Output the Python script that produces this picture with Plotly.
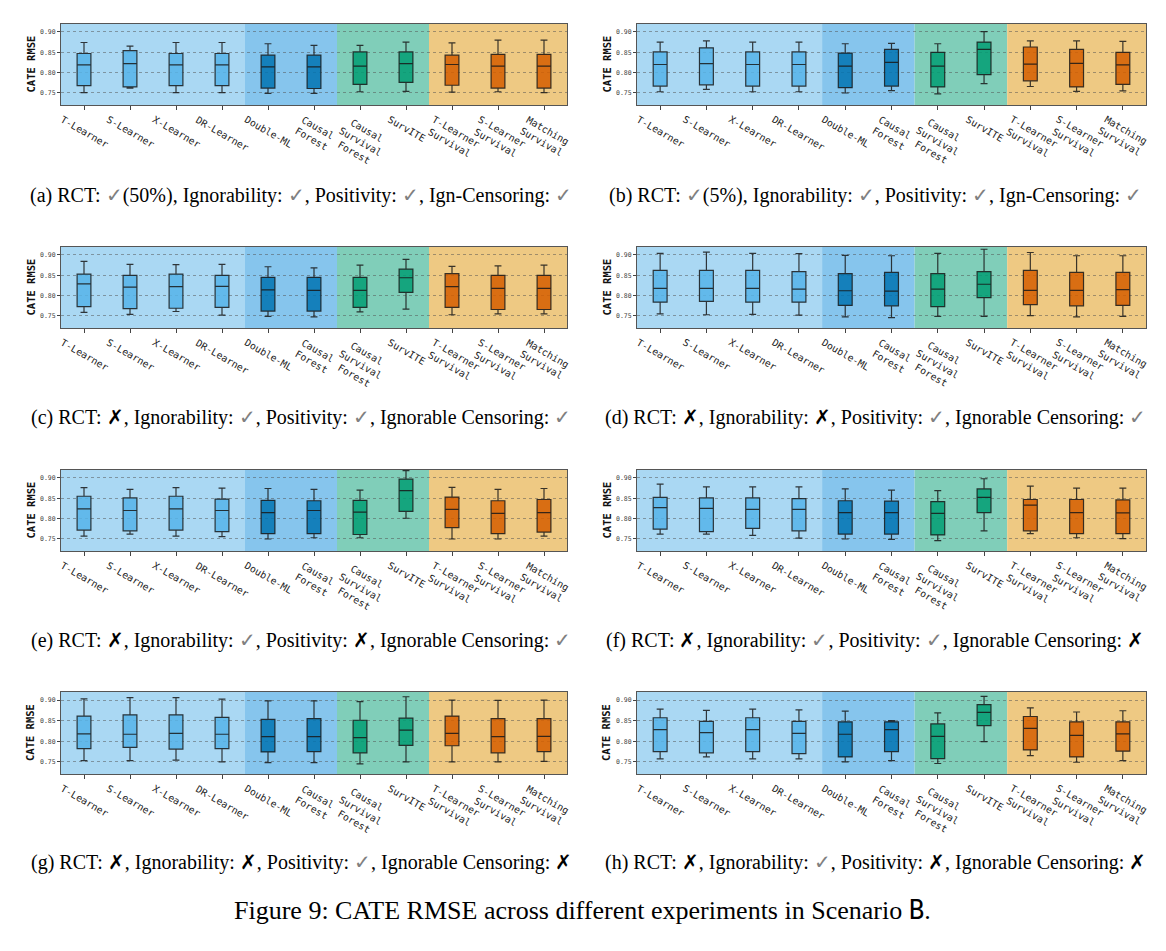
import plotly.graph_objects as go

W, H = 1166, 951

methods = ["T-Learner", "S-Learner", "X-Learner", "DR-Learner", "Double-ML", "Causal Forest",
           "Causal Survival Forest", "SurvITE", "T-Learner Survival", "S-Learner Survival",
           "Matching Survival"]
tick_labels = ["T-Learner", "S-Learner", "X-Learner", "DR-Learner", "Double-ML", "Causal<br>Forest",
               "Causal<br>Survival<br>Forest", "SurvITE", "T-Learner<br>Survival",
               "S-Learner<br>Survival", "Matching<br>Survival"]
groups = [0, 0, 0, 0, 1, 1, 2, 2, 3, 3, 3]
y_ticks = [0.75, 0.80, 0.85, 0.90]

# ---- panel (a)
lo_a = [0.751, 0.762, 0.751, 0.751, 0.749, 0.749, 0.753, 0.754, 0.752, 0.753, 0.751]
q1_a = [0.768, 0.765, 0.768, 0.768, 0.762, 0.761, 0.771, 0.776, 0.769, 0.762, 0.762]
md_a = [0.819, 0.822, 0.819, 0.819, 0.814, 0.814, 0.816, 0.822, 0.820, 0.816, 0.816]
q3_a = [0.847, 0.854, 0.847, 0.847, 0.843, 0.843, 0.851, 0.851, 0.843, 0.845, 0.845]
hi_a = [0.874, 0.865, 0.874, 0.874, 0.871, 0.867, 0.867, 0.875, 0.873, 0.880, 0.880]
# ---- panel (b)
lo_b = [0.753, 0.759, 0.753, 0.753, 0.750, 0.756, 0.748, 0.773, 0.766, 0.754, 0.755]
q1_b = [0.767, 0.770, 0.767, 0.767, 0.763, 0.767, 0.765, 0.795, 0.780, 0.765, 0.771]
md_b = [0.820, 0.822, 0.820, 0.820, 0.816, 0.825, 0.816, 0.857, 0.821, 0.823, 0.819]
q3_b = [0.851, 0.861, 0.851, 0.851, 0.848, 0.857, 0.850, 0.875, 0.863, 0.857, 0.850]
hi_b = [0.875, 0.878, 0.875, 0.875, 0.871, 0.872, 0.871, 0.901, 0.878, 0.878, 0.877]
# ---- panel (c)
lo_c = [0.759, 0.754, 0.761, 0.752, 0.749, 0.748, 0.760, 0.767, 0.753, 0.755, 0.755]
q1_c = [0.773, 0.768, 0.769, 0.771, 0.762, 0.762, 0.771, 0.808, 0.771, 0.766, 0.766]
md_c = [0.829, 0.821, 0.822, 0.823, 0.814, 0.813, 0.813, 0.844, 0.822, 0.818, 0.818]
q3_c = [0.853, 0.850, 0.853, 0.850, 0.845, 0.845, 0.845, 0.865, 0.854, 0.850, 0.850]
hi_c = [0.884, 0.877, 0.876, 0.877, 0.871, 0.868, 0.875, 0.889, 0.872, 0.873, 0.875]
# ---- panel (d)
lo_d = [0.755, 0.753, 0.754, 0.752, 0.748, 0.746, 0.749, 0.749, 0.751, 0.748, 0.749]
q1_d = [0.784, 0.786, 0.784, 0.784, 0.776, 0.775, 0.773, 0.795, 0.778, 0.775, 0.776]
md_d = [0.818, 0.818, 0.818, 0.816, 0.812, 0.811, 0.816, 0.828, 0.813, 0.813, 0.815]
q3_d = [0.862, 0.862, 0.862, 0.859, 0.854, 0.857, 0.854, 0.859, 0.862, 0.857, 0.857]
hi_d = [0.904, 0.907, 0.904, 0.903, 0.899, 0.898, 0.904, 0.914, 0.906, 0.898, 0.898]
# ---- panel (e)
lo_e = [0.757, 0.762, 0.757, 0.756, 0.750, 0.753, 0.753, 0.801, 0.750, 0.750, 0.757]
q1_e = [0.772, 0.770, 0.772, 0.768, 0.763, 0.763, 0.761, 0.818, 0.778, 0.763, 0.767]
md_e = [0.824, 0.820, 0.824, 0.820, 0.815, 0.820, 0.816, 0.869, 0.823, 0.813, 0.815]
q3_e = [0.855, 0.851, 0.855, 0.848, 0.845, 0.844, 0.845, 0.897, 0.853, 0.844, 0.847]
hi_e = [0.876, 0.872, 0.876, 0.875, 0.874, 0.872, 0.870, 0.918, 0.877, 0.872, 0.874]
# ---- panel (f)
lo_f = [0.762, 0.762, 0.759, 0.752, 0.750, 0.749, 0.746, 0.770, 0.763, 0.753, 0.751]
q1_f = [0.774, 0.768, 0.776, 0.770, 0.762, 0.762, 0.760, 0.815, 0.770, 0.763, 0.763]
md_f = [0.827, 0.825, 0.823, 0.823, 0.815, 0.815, 0.813, 0.852, 0.833, 0.815, 0.814]
q3_f = [0.852, 0.851, 0.851, 0.849, 0.844, 0.843, 0.842, 0.873, 0.847, 0.847, 0.846]
hi_f = [0.885, 0.878, 0.878, 0.878, 0.873, 0.870, 0.869, 0.898, 0.880, 0.875, 0.875]
# ---- panel (g)
lo_g = [0.753, 0.753, 0.754, 0.750, 0.748, 0.748, 0.745, 0.750, 0.750, 0.750, 0.751]
q1_g = [0.782, 0.785, 0.781, 0.782, 0.774, 0.775, 0.772, 0.790, 0.789, 0.772, 0.775]
md_g = [0.818, 0.817, 0.819, 0.817, 0.811, 0.811, 0.809, 0.827, 0.819, 0.811, 0.812]
q3_g = [0.861, 0.864, 0.864, 0.858, 0.853, 0.855, 0.851, 0.856, 0.861, 0.855, 0.855]
hi_g = [0.903, 0.906, 0.906, 0.902, 0.898, 0.898, 0.896, 0.908, 0.900, 0.899, 0.900]
# ---- panel (h)
lo_h = [0.757, 0.762, 0.757, 0.757, 0.750, 0.753, 0.746, 0.799, 0.765, 0.749, 0.753]
q1_h = [0.775, 0.772, 0.775, 0.770, 0.762, 0.775, 0.758, 0.838, 0.779, 0.762, 0.776]
md_h = [0.828, 0.821, 0.828, 0.819, 0.817, 0.828, 0.812, 0.870, 0.831, 0.814, 0.818]
q3_h = [0.857, 0.848, 0.857, 0.848, 0.847, 0.847, 0.842, 0.889, 0.860, 0.847, 0.847]
hi_h = [0.878, 0.875, 0.878, 0.876, 0.873, 0.850, 0.869, 0.909, 0.881, 0.871, 0.874]

CHK = '<span style="color:#808080">✓</span>'
CRS = '<span style="color:#000000">✗</span>'
captions = [
    f"(a) RCT: {CHK}(50%), Ignorability: {CHK}, Positivity: {CHK}, Ign-Censoring: {CHK}",
    f"(b) RCT: {CHK}(5%), Ignorability: {CHK}, Positivity: {CHK}, Ign-Censoring: {CHK}",
    f"(c) RCT: {CRS}, Ignorability: {CHK}, Positivity: {CHK}, Ignorable Censoring: {CHK}",
    f"(d) RCT: {CRS}, Ignorability: {CRS}, Positivity: {CHK}, Ignorable Censoring: {CHK}",
    f"(e) RCT: {CRS}, Ignorability: {CHK}, Positivity: {CRS}, Ignorable Censoring: {CHK}",
    f"(f) RCT: {CRS}, Ignorability: {CHK}, Positivity: {CHK}, Ignorable Censoring: {CRS}",
    f"(g) RCT: {CRS}, Ignorability: {CRS}, Positivity: {CHK}, Ignorable Censoring: {CRS}",
    f"(h) RCT: {CRS}, Ignorability: {CHK}, Positivity: {CRS}, Ignorable Censoring: {CRS}",
]
title_text = ('Figure 9: CATE RMSE across different experiments in Scenario '
              '<span style="font-family:DejaVu Sans Mono">B</span>.')

panels = [
    (lo_a, q1_a, md_a, q3_a, hi_a), (lo_b, q1_b, md_b, q3_b, hi_b),
    (lo_c, q1_c, md_c, q3_c, hi_c), (lo_d, q1_d, md_d, q3_d, hi_d),
    (lo_e, q1_e, md_e, q3_e, hi_e), (lo_f, q1_f, md_f, q3_f, hi_f),
    (lo_g, q1_g, md_g, q3_g, hi_g), (lo_h, q1_h, md_h, q3_h, hi_h),
]

# styling
box_fill = ["rgba(86,180,233,0.85)", "rgba(1,115,178,0.85)", "rgba(2,158,115,0.85)", "rgba(213,94,0,0.85)"]
bg_fill = ["rgb(170,216,243)", "rgb(134,197,237)", "rgb(128,206,185)", "rgb(238,201,131)"]
group_spans = [(-0.5, 3.5), (3.5, 5.5), (5.5, 7.5), (7.5, 10.5)]
col_x = [(61, 567), (637, 1146)]
row_y = [(24, 105), (247, 328), (470, 551), (692, 774)]
cap_x = [301, 875]
cap_y = [195, 418, 640, 862]
YR = [0.7205, 0.9195]

MONO = "DejaVu Sans Mono"
SERIF = "Liberation Serif"

fig = go.Figure()
layout = dict(width=W, height=H, margin=dict(l=0, r=0, t=0, b=0),
              paper_bgcolor="white", plot_bgcolor="white", showlegend=False,
              boxmode="overlay")
shapes, annotations = [], []

for p, (lo, q1, md, q3, hi) in enumerate(panels):
    r, c = divmod(p, 2)
    xs = "x" if p == 0 else f"x{p+1}"
    ys = "y" if p == 0 else f"y{p+1}"
    xk = "xaxis" if p == 0 else f"xaxis{p+1}"
    yk = "yaxis" if p == 0 else f"yaxis{p+1}"
    x0, x1 = col_x[c]
    yt, yb = row_y[r]
    layout[xk] = dict(domain=[x0 / W, x1 / W], anchor=ys, type="category",
                      categoryorder="array", categoryarray=methods, range=[-0.5, 10.5],
                      showticklabels=False, ticks="outside", ticklen=4, tickcolor="#444",
                      showline=True, mirror=True, linecolor="#555", linewidth=1,
                      showgrid=False, zeroline=False)
    layout[yk] = dict(domain=[1 - yb / H, 1 - yt / H], anchor=xs, range=YR,
                      tickvals=y_ticks, tickformat=".2f",
                      tickfont=dict(family=MONO, size=6.5, color="#444"),
                      ticks="outside", ticklen=3, tickcolor="#444",
                      showgrid=True, gridcolor="rgba(80,80,80,0.5)", griddash="dot", gridwidth=0.8,
                      showline=True, mirror=True, linecolor="#555", linewidth=1, zeroline=False)
    for g in range(4):
        idx = [i for i in range(len(methods)) if groups[i] == g]
        fig.add_trace(go.Box(
            x=[methods[i] for i in idx],
            q1=[q1[i] for i in idx], median=[md[i] for i in idx], q3=[q3[i] for i in idx],
            lowerfence=[lo[i] for i in idx], upperfence=[hi[i] for i in idx],
            fillcolor=box_fill[g], line=dict(color="rgba(25,25,25,0.85)", width=1.2),
            width=0.3, whiskerwidth=0.5, boxpoints=False, hoverinfo="skip",
            xaxis=xs, yaxis=ys, showlegend=False))
        s0, s1 = group_spans[g]
        shapes.append(dict(type="rect", xref=xs, yref=f"{ys} domain", x0=s0, x1=s1, y0=0, y1=1,
                           fillcolor=bg_fill[g], line=dict(width=0), layer="below"))
    for m, lab in zip(methods, tick_labels):
        annotations.append(dict(x=m, xref=xs, y=0, yref=f"{ys} domain", yshift=-6,
                                xanchor="center", yanchor="top", textangle=30, align="center",
                                text=lab, showarrow=False,
                                font=dict(family=MONO, size=9.8, color="#222")))
    annotations.append(dict(x=(x0 - 31) / W, xref="paper", y=1 - (yt + yb) / 2 / H, yref="paper",
                            xanchor="center", yanchor="middle", textangle=-90,
                            text="<b>CATE RMSE</b>", showarrow=False,
                            font=dict(family=MONO, size=10.5, color="#111")))
    annotations.append(dict(x=cap_x[c] / W, xref="paper", y=1 - cap_y[r] / H, yref="paper",
                            xanchor="center", yanchor="middle", text=captions[p], showarrow=False,
                            font=dict(family=SERIF, size=20, color="#000")))

annotations.append(dict(x=582 / W, xref="paper", y=1 - 910 / H, yref="paper",
                        xanchor="center", yanchor="middle", text=title_text, showarrow=False,
                        font=dict(family=SERIF, size=26, color="#000")))

layout["shapes"] = shapes
layout["annotations"] = annotations
fig.update_layout(**layout)
fig.write_html("out.html")
